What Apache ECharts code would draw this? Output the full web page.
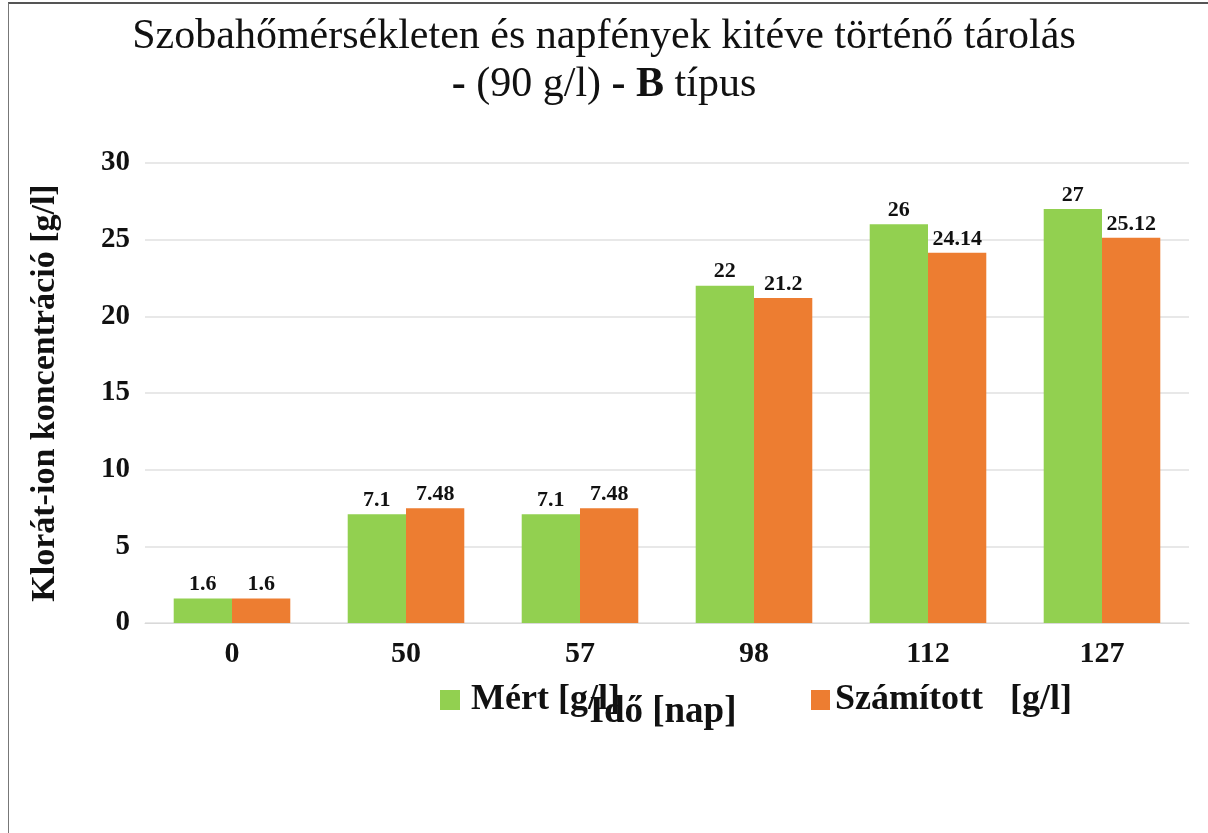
<!DOCTYPE html>
<html>
<head>
<meta charset="utf-8">
<script src="https://cdn.jsdelivr.net/npm/echarts@6/dist/echarts.min.js"></script>
<style>
  html, body { margin: 0; padding: 0; background: #fff; }
  #frame { position: absolute; left: 8px; top: 2px; width: 1200px; height: 831px;
           border-top: 2px solid #555; border-left: 1px solid #777; box-sizing: border-box; }
  #main { width: 1208px; height: 833px; position: absolute; left: 0; top: 0; }
</style>
</head>
<body>
<div id="frame"></div>
<div id="main"></div>
<script>
// idő (nap)
var days = ['0', '50', '57', '98', '112', '127'];
// mért koncentráció [g/l]
var measured = [1.6, 7.1, 7.1, 22, 26, 27];
// számított koncentráció [g/l]
var computed = [1.6, 7.48, 7.48, 21.2, 24.14, 25.12];
var yTicks = [0, 5, 10, 15, 20, 25, 30];

var chartDom = document.getElementById('main');
var myChart = echarts.init(chartDom, null, {renderer: 'canvas'});

var serif = 'Liberation Serif';
var labelStyle = {
    show: true,
    position: 'top',
    distance: 3,
    color: '#111',
    fontFamily: serif,
    fontWeight: 'bold',
    fontSize: 22
};
var legendText = {
    fontFamily: serif,
    fontWeight: 'bold',
    fontSize: 36,
    color: '#111'
};

var option = {
    backgroundColor: 'transparent',
    animation: false,
    title: {
        left: 'center',
        top: 8,
        text: 'Szobahőmérsékleten és napfények kitéve történő tárolás\n{b|-} (90 g/l) {b|-} {b|B} típus',
        textStyle: {
            fontFamily: serif,
            fontWeight: 'normal',
            fontSize: 42,
            color: '#111',
            lineHeight: 48,
            rich: {
                b: {fontFamily: serif, fontWeight: 'bold', fontSize: 42, color: '#111', lineHeight: 48}
            }
        }
    },
    legend: [
        {
            top: 677,
            left: 435,
            itemWidth: 20,
            itemHeight: 20,
            icon: 'rect',
            textStyle: Object.assign({padding: [0, 0, 0, 6]}, legendText),
            data: ['Mért [g/l]']
        },
        {
            top: 677,
            left: 806,
            itemWidth: 19,
            itemHeight: 20,
            icon: 'rect',
            textStyle: legendText,
            data: ['Számított   [g/l]']
        }
    ],
    grid: {
        left: 145,
        right: 19,
        top: 163,
        bottom: 210,
        containLabel: false
    },
    xAxis: {
        type: 'category',
        data: days,
        name: 'Idő [nap]',
        nameLocation: 'middle',
        nameGap: 71,
        nameTextStyle: {
            fontFamily: serif,
            fontWeight: 'bold',
            fontSize: 37,
            color: '#111',
            padding: [0, 8, 0, 0]
        },
        axisLine: {lineStyle: {color: '#d9d9d9', width: 1}},
        axisTick: {show: false},
        axisLabel: {
            fontFamily: serif,
            fontWeight: 'bold',
            fontSize: 30,
            color: '#111',
            margin: 16
        }
    },
    yAxis: {
        type: 'value',
        min: yTicks[0],
        max: yTicks[yTicks.length - 1],
        interval: 5,
        name: 'Klorát-ion koncentráció [g/l]',
        nameLocation: 'middle',
        nameGap: 83,
        nameTextStyle: {
            fontFamily: serif,
            fontWeight: 'bold',
            fontSize: 34,
            color: '#111'
        },
        axisLine: {show: false},
        axisTick: {show: false},
        splitLine: {lineStyle: {color: '#e0e0e0', width: 1.5}},
        axisLabel: {
            fontFamily: serif,
            fontWeight: 'bold',
            fontSize: 29,
            color: '#111',
            margin: 15
        }
    },
    series: [
        {
            name: 'Mért [g/l]',
            type: 'bar',
            data: measured,
            barGap: '0%',
            barCategoryGap: '33%',
            itemStyle: {color: '#92D050'},
            label: labelStyle
        },
        {
            name: 'Számított   [g/l]',
            type: 'bar',
            data: computed,
            barGap: '0%',
            barCategoryGap: '33%',
            itemStyle: {color: '#ED7D31'},
            label: labelStyle
        }
    ]
};

option && myChart.setOption(option);
</script>
</body>
</html>
